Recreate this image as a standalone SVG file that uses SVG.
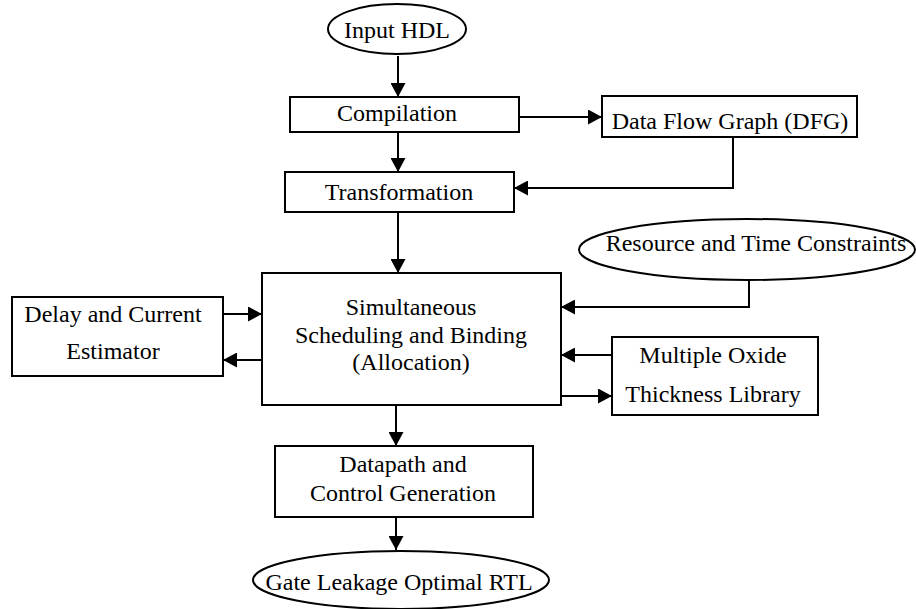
<svg xmlns="http://www.w3.org/2000/svg" width="916" height="609" viewBox="0 0 916 609" font-family="Liberation Serif" font-size="24">
<defs>
<marker id="ah" markerUnits="userSpaceOnUse" markerWidth="15" markerHeight="15" refX="14" refY="7.5" orient="auto">
<path d="M0,0 L14,7.5 L0,15 z" fill="#000"/>
</marker>
<style>
.n{fill:#fff;stroke:#000;stroke-width:2}
text{fill:#000;text-anchor:middle}
.c{fill:none;stroke:#000;stroke-width:2}
.a{marker-end:url(#ah)}
</style>
</defs>
<rect width="916" height="609" fill="#fff"/>
<g id="connectors">
<path class="c a" d="M398,56 V97"/>
<path class="c a" d="M398,132 V172"/>
<path class="c a" d="M519,117 H602"/>
<path class="c a" d="M733,137 V188 H514"/>
<path class="c a" d="M398,212 V273"/>
<path class="c a" d="M749,280 V307 H561"/>
<path class="c a" d="M223,314 H262"/>
<path class="c a" d="M262,360 H223"/>
<path class="c a" d="M612,355 H561"/>
<path class="c a" d="M561,396 H612"/>
<path class="c a" d="M396,405 V446"/>
<path class="c a" d="M396,517 V550"/>
</g>
<g id="input-hdl">
<ellipse class="n" cx="397" cy="29" rx="69" ry="25"/>
<text x="397" y="38">Input HDL</text>
</g>
<g id="compilation">
<rect class="n" x="290" y="97" width="229" height="35"/>
<text x="397" y="121">Compilation</text>
</g>
<g id="dfg">
<rect class="n" x="602" y="96" width="255" height="41"/>
<text x="730" y="129">Data Flow Graph (DFG)</text>
</g>
<g id="transformation">
<rect class="n" x="285" y="172" width="229" height="40"/>
<text x="399" y="200">Transformation</text>
</g>
<g id="constraints">
<ellipse class="n" cx="747" cy="249.5" rx="168" ry="30.5"/>
<text x="756" y="251">Resource and Time Constraints</text>
</g>
<g id="scheduling">
<rect class="n" x="262" y="273" width="299" height="132"/>
<text x="411" y="315">Simultaneous</text>
<text x="411" y="343">Scheduling and Binding</text>
<text x="411" y="370">(Allocation)</text>
</g>
<g id="estimator">
<rect class="n" x="12" y="297" width="211" height="79"/>
<text x="113" y="322">Delay and Current</text>
<text x="113" y="359">Estimator</text>
</g>
<g id="library">
<rect class="n" x="612" y="337" width="206" height="78"/>
<text x="713" y="363">Multiple Oxide</text>
<text x="713" y="402">Thickness Library</text>
</g>
<g id="datapath">
<rect class="n" x="275" y="446" width="258" height="71"/>
<text x="403" y="472">Datapath and</text>
<text x="403" y="501">Control Generation</text>
</g>
<g id="rtl">
<ellipse class="n" cx="401" cy="580" rx="148" ry="29"/>
<text x="399" y="590">Gate Leakage Optimal RTL</text>
</g>
</svg>
